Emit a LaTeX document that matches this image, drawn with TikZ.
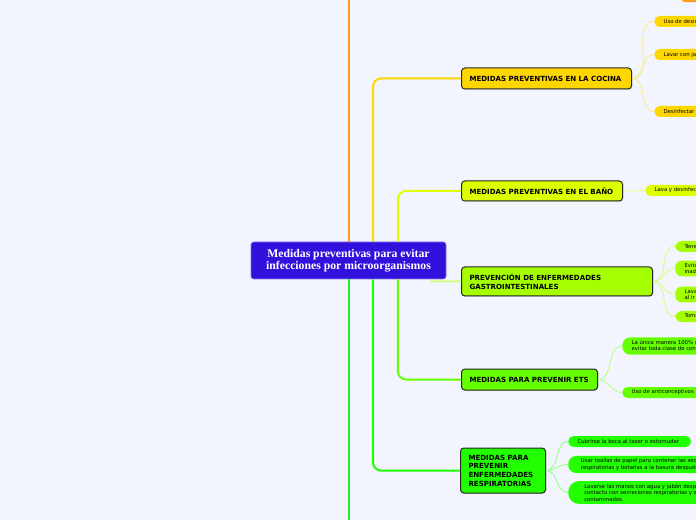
\documentclass[tikz,border=0pt]{standalone}
\usepackage{fontspec}
\setmainfont{Liberation Serif}
\newfontfamily\mapfont{DejaVu Sans}
\usetikzlibrary{shadows}

\definecolor{paper}{HTML}{F2F5FD}
\definecolor{rootblue}{HTML}{3311DD}
\definecolor{orangeline}{HTML}{FF9A1A}
\definecolor{cocinacol}{HTML}{FFD700}
\definecolor{banocol}{HTML}{DDFF00}
\definecolor{gastrocol}{HTML}{A6FF00}
\definecolor{etscol}{HTML}{66FF00}
\definecolor{respcol}{HTML}{22FF00}
\definecolor{downline}{HTML}{22EE33}

\begin{document}
\begin{tikzpicture}[x=0.75pt,y=-0.75pt,
  root/.style={fill=rootblue, draw=rootblue!60!white, rounded corners=2pt,
    minimum width=146.25pt, minimum height=27.75pt, align=center, text=white,
    font=\fontsize{8.8pt}{7.6pt}\selectfont\bfseries},
  branch/.style={draw=black!85, line width=0.75pt, rounded corners=2.5pt,
    anchor=west, align=left, inner xsep=6pt, inner ysep=0pt,
    drop shadow={opacity=0.25, shadow xshift=0.6pt, shadow yshift=-0.6pt},
    font=\mapfont\fontsize{5.3pt}{6.5pt}\selectfont\bfseries},
  leaf/.style={anchor=west, align=left, inner xsep=7pt, inner ysep=2pt,
    rounded corners=4pt, minimum height=8.25pt,
    font=\mapfont\fontsize{4pt}{4.9pt}\selectfont},
  trunk/.style={line width=1.5pt, rounded corners=6pt},
  twig/.style={line width=0.6pt}]

\fill[paper] (0,0) rectangle (696,520);
\useasboundingbox (0,0) rectangle (696,520);

% centre
\node[root] (root) at (348.5,260.5) {Medidas preventivas para evitar\\infecciones por microorganismos};
\coordinate (up) at (348.5,-5);
\coordinate (down) at (348.5,525);
\draw[trunk, orangeline] (root.north) -- (up);
\draw[trunk, downline] (root.south) -- (down);

% stub of the orange topic above the page
\node[fill=orangeline, rounded corners=3pt, minimum width=60pt, minimum height=10.5pt,
  anchor=south west] (arriba) at (681,2.5) {};

% main topics
\node[branch, fill=cocinacol, text width=115.5pt, minimum height=15.75pt] (cocina) at (461,78.5) {MEDIDAS PREVENTIVAS EN LA COCINA};
\node[branch, fill=banocol, text width=108.75pt, minimum height=15pt] (bano) at (461,191) {MEDIDAS PREVENTIVAS EN EL BAÑO};
\node[branch, fill=gastrocol, text width=131.25pt, minimum height=21.75pt] (gastro) at (461,281.5) {PREVENCIÓN DE ENFERMEDADES\\GASTROINTESTINALES};
\node[branch, fill=etscol, text width=90pt, minimum height=15.75pt] (ets) at (461,379.5) {MEDIDAS PARA PREVENIR ETS};
\node[branch, fill=respcol, text width=51.75pt, minimum height=33.75pt] (resp) at (460,470.5) {MEDIDAS PARA\\PREVENIR\\ENFERMEDADES\\RESPIRATORIAS};

\draw[trunk, cocinacol] ([xshift=18.4pt]root.north) |- (cocina.west);
\draw[trunk, banocol!90!yellow] ([xshift=37.1pt]root.north) |- (bano.west);
\draw[trunk, gastrocol!50!white] ([xshift=-12pt,yshift=-1.5pt]root.south east) -- (gastro.west);
\draw[trunk, etscol] ([xshift=37.1pt]root.south) |- (ets.west);
\draw[trunk, respcol!80!green] ([xshift=18.4pt]root.south) |- (resp.west);

% subtopics
\foreach \i/\y/\t in {1/21.5/Uso de desinfectantes, 2/54.5/Lavar con jabón, 3/111.5/Desinfectar}{
  \node[leaf, fill=cocinacol] (coc\i) at (654,\y) {\t};
  \draw[twig, cocinacol!50!white] (cocina.east) to[out=0,in=180] (coc\i.west);
}

\node[leaf, fill=banocol] (ban1) at (645,190.5) {Lava y desinfecta};
\draw[twig, banocol!50!white] (bano.east) -- (ban1.west);

\foreach \i/\y/\t in {1/246.5/Tener, 2/268.5/{Evitar alimentos\\inadecuados}, 3/294.5/{Lavarse las manos\\al ir al baño}, 4/316.5/Tomar agua potable}{
  \node[leaf, fill=gastrocol, rounded corners=5pt] (gas\i) at (675,\y) {\t};
  \draw[twig, gastrocol!50!white] (gastro.east) to[out=0,in=180] (gas\i.west);
}

\node[leaf, fill=etscol, rounded corners=6pt] (ets1) at (622,346) {La única manera 100\% segura de\\evitar toda clase de contagio};
\node[leaf, fill=etscol] (ets2) at (622,392.5) {Uso de anticonceptivos};
\foreach \n in {ets1, ets2}
  \draw[twig, etscol!50!white] (ets.east) to[out=0,in=180] (\n.west);

\node[leaf, fill=respcol, text width=78pt] (res1) at (568,441.5) {Cubrirse la boca al toser o estornudar};
\node[leaf, fill=respcol, rounded corners=6pt, inner xsep=9.5pt] (res2) at (568,464.5) {Usar toallas de papel para contener las secreciones\\respiratorias y botarlas a la basura después};
\node[leaf, fill=respcol, rounded corners=8pt, inner xsep=12pt] (res3) at (568,492.5) {Lavarse las manos con agua y jabón después de\\contacto con secreciones respiratorias y objetos\\contaminados.};
\foreach \n in {res1, res2, res3}
  \draw[twig, respcol!50!white] (resp.east) to[out=0,in=180] (\n.west);
\end{tikzpicture}
\end{document}
